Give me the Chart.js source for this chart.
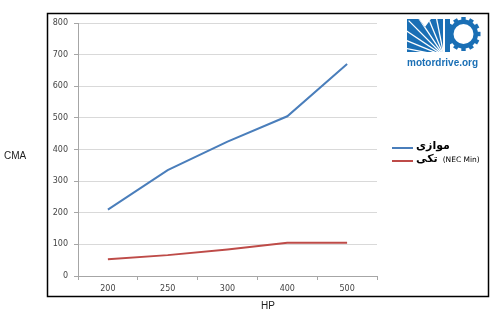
<!DOCTYPE html>
<html>
<head>
<meta charset="utf-8">
<script src="https://cdn.jsdelivr.net/npm/chart.js@4/dist/chart.umd.min.js"></script>
<style>
  html, body { margin: 0; padding: 0; background: #fff; }
  #wrap { width: 496px; height: 322px; position: relative; }
</style>
</head>
<body>
<div id="wrap"><canvas id="c" width="496" height="322"></canvas></div>
<script>
// Motor horsepower categories
const hpLabels = ['200', '250', '300', '400', '500'];
// CMA for parallel conductors
const parallelCMA = [210, 335, 425, 505, 670];
// CMA for single conductor (NEC minimum)
const singleCMA = [53, 66, 84, 105, 105];
// Legend texts
const parallelName = 'موازی';
const singleName = 'تکی';
const singleNote = '(NEC Min)';

const BLUE = '#4a7ebb';
const RED = '#be4b48';

// Draws the outer frame, axis titles, legend and logo
const decor = {
  id: 'decor',
  afterDraw(chart) {
    const ctx = chart.ctx;
    ctx.save();
    // outer frame
    ctx.strokeStyle = '#000';
    ctx.lineWidth = 1.5;
    ctx.strokeRect(47.5, 13.5, 441, 283);

    // axis titles
    ctx.fillStyle = '#222';
    ctx.font = '10px "Liberation Sans", Arial, sans-serif';
    ctx.textBaseline = 'middle';
    ctx.textAlign = 'left';
    ctx.fillText('CMA', 4, 156);
    ctx.textAlign = 'center';
    ctx.fillText('HP', 268, 306);

    // legend
    const items = [
      { color: BLUE, y: 148, parts: [parallelName] },
      { color: RED, y: 161, parts: [singleName, singleNote] }
    ];
    items.forEach(it => {
      ctx.strokeStyle = it.color;
      ctx.lineWidth = 2;
      ctx.beginPath();
      ctx.moveTo(392, it.y);
      ctx.lineTo(413, it.y);
      ctx.stroke();
      let x = 416;
      ctx.textAlign = 'left';
      ctx.fillStyle = '#000';
      ctx.font = 'bold 11px "DejaVu Sans", sans-serif';
      ctx.fillText(it.parts[0], x, it.y - 2);
      if (it.parts[1]) {
        x += ctx.measureText(it.parts[0]).width + 5;
        ctx.font = '7.5px "DejaVu Sans", sans-serif';
        ctx.fillText(it.parts[1], x, it.y - 1);
      }
    });

    // motordrive.org logo
    drawLogo(ctx);
    ctx.restore();
  }
};

function drawLogo(ctx) {
  const LB = '#1a6fb5';
  ctx.save();
  // "M" block with sunburst rays, clipped to its outline
  ctx.beginPath();
  ctx.moveTo(407, 19);
  ctx.lineTo(419, 19);
  ctx.lineTo(425, 27);
  ctx.lineTo(431, 19);
  ctx.lineTo(443, 19);
  ctx.lineTo(443, 52);
  ctx.lineTo(407, 52);
  ctx.closePath();
  ctx.fillStyle = LB;
  ctx.fill();
  ctx.save();
  ctx.clip();
  ctx.strokeStyle = '#fff';
  ctx.lineWidth = 1.3;
  for (let i = 0; i < 9; i++) {
    const a = Math.PI + i * (Math.PI / 2) / 8;
    ctx.beginPath();
    ctx.moveTo(444, 56);
    ctx.lineTo(444 + Math.cos(a) * 50, 56 + Math.sin(a) * 50);
    ctx.stroke();
  }
  ctx.restore();
  // "D" gear
  ctx.fillStyle = LB;
  ctx.fillRect(445, 19, 5, 33);
  const cx = 463.5, cy = 34;
  ctx.beginPath();
  ctx.arc(cx, cy, 14.5, 0, Math.PI * 2);
  ctx.fill();
  for (let i = 0; i < 12; i++) {
    const a = i * Math.PI / 6;
    ctx.save();
    ctx.translate(cx, cy);
    ctx.rotate(a);
    ctx.fillRect(12.5, -2.2, 4.5, 4.4);
    ctx.restore();
  }
  ctx.fillStyle = '#fff';
  ctx.beginPath();
  ctx.arc(cx, cy, 10, 0, Math.PI * 2);
  ctx.fill();
  // wordmark
  ctx.fillStyle = LB;
  ctx.font = 'bold 10px "Liberation Sans", Arial, sans-serif';
  ctx.textAlign = 'left';
  ctx.textBaseline = 'middle';
  ctx.fillText('motordrive.org', 407, 63);
  ctx.restore();
}

new Chart(document.getElementById('c'), {
  type: 'line',
  data: {
    labels: hpLabels,
    datasets: [
      { label: parallelName, data: parallelCMA, borderColor: BLUE, borderWidth: 2, pointRadius: 0, tension: 0, fill: false },
      { label: singleName + ' ' + singleNote, data: singleCMA, borderColor: RED, borderWidth: 2, pointRadius: 0, tension: 0, fill: false }
    ]
  },
  options: {
    responsive: false,
    animation: false,
    events: [],
    layout: { padding: { left: 0, right: 119, top: 23, bottom: 0 } },
    plugins: { legend: { display: false }, tooltip: { enabled: false } },
    scales: {
      x: {
        type: 'category',
        offset: true,
        afterFit(s) { s.height = 46; },
        border: { color: '#a6a6a6', width: 1 },
        grid: { offset: true, drawOnChartArea: false, drawTicks: true, tickLength: 4, color: '#a6a6a6' },
        ticks: { color: '#444', font: { family: '"DejaVu Sans", Verdana, sans-serif', size: 8 }, padding: 4 }
      },
      y: {
        min: 0, max: 800,
        afterFit(s) { s.width = 78; },
        border: { color: '#a6a6a6', width: 1 },
        grid: { color: '#d9d9d9', drawTicks: true, tickLength: 4, tickColor: '#a6a6a6' },
        ticks: { stepSize: 100, color: '#444', font: { family: '"DejaVu Sans", Verdana, sans-serif', size: 8 }, padding: 6 }
      }
    }
  },
  plugins: [decor]
});
</script>
</body>
</html>
